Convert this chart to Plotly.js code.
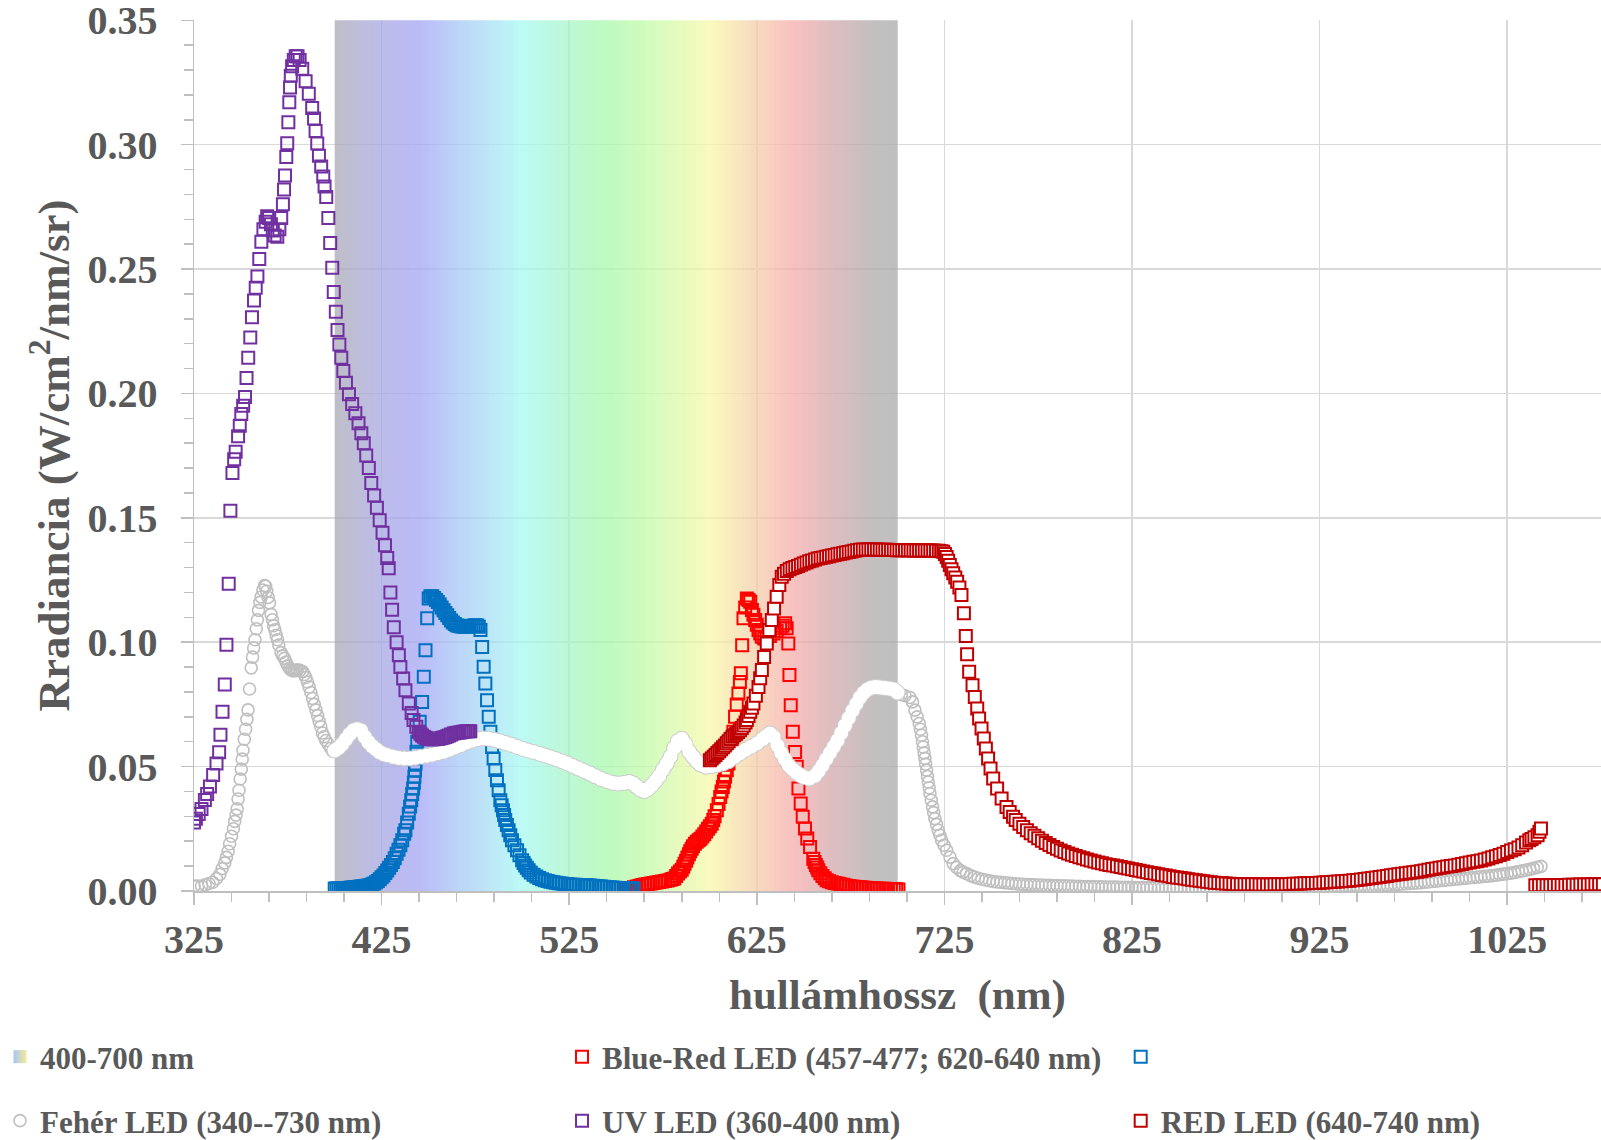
<!DOCTYPE html>
<html><head><meta charset="utf-8">
<script src="https://cdn.plot.ly/plotly-3.0.1.min.js"></script>
<style>html,body{margin:0;padding:0;background:#fff}#chart{width:1601px;height:1140px}</style>
</head><body><div id="chart"></div>
<script>
// ---- data (wavelength nm, radiance W/cm2/nm/sr) ----
const bandRange = [400, 700];
const bandStops = [[400,'#A8A8B4'],[412,'#A8A8CC'],[425,'#A6A6E3'],[445,'#A4A4F6'],[465,'#A6C6F6'],[482,'#A7DEF6'],[500,'#A6FAF2'],[520,'#A6F6CE'],[545,'#A8F8AC'],[570,'#C8FBA8'],[600,'#F8F8A8'],[622,'#F6D2AA'],[645,'#F6ABAB'],[670,'#CBA8AB'],[688,'#AEAAAA'],[700,'#AAAAAA']];

const uvPts = [[325,0.0275],[326,0.029],[327.5,0.031],[329,0.033],[330.8,0.0366],[332,0.039],[333.5,0.042],[335.2,0.0466],[337,0.0512],[338.4,0.0558],[339.1,0.0628],[340.2,0.072],[341.4,0.083],[342.3,0.099],[343.5,0.1235],[344.4,0.1528],[345.5,0.168],[346.4,0.1735],[347.2,0.1766],[348.5,0.1828],[349.4,0.187],[350.2,0.1917],[351.2,0.195],[352.2,0.1986],[353,0.2062],[353.9,0.2143],[355,0.2225],[355.9,0.2306],[357,0.2374],[357.9,0.2425],[358.8,0.247],[359.8,0.254],[360.9,0.261],[362,0.266],[363.2,0.269],[364,0.2712],[365,0.2705],[366,0.268],[367,0.2655],[368,0.2635],[369.4,0.263],[370.5,0.266],[371.5,0.2705],[372.4,0.276],[373,0.282],[373.5,0.2876],[374.2,0.295],[374.7,0.3006],[375.3,0.309],[375.8,0.317],[376.2,0.323],[376.6,0.3277],[377.3,0.3315],[378.2,0.334],[379.2,0.3355],[380.2,0.3355],[381.3,0.334],[382.7,0.3305],[384.5,0.3255],[386.2,0.3205],[388,0.3147],[389,0.3105],[389.8,0.3055],[390.7,0.3005],[391.6,0.2955],[392.8,0.2912],[393.9,0.2872],[394.6,0.2832],[395.5,0.279],[396.6,0.2705],[397.6,0.2605],[398.7,0.2505],[399.5,0.2408],[400.6,0.2328],[401.5,0.2255],[402.5,0.2197],[403.5,0.2143],[404.6,0.209],[406,0.2043],[407.6,0.1997],[409.3,0.1958],[411,0.192],[412.7,0.188],[414.2,0.184],[415.5,0.18],[416.8,0.175],[418.2,0.17],[419.5,0.164],[421,0.159],[422.5,0.154],[424,0.149],[425.5,0.144],[426.8,0.139],[428,0.1338],[428.8,0.1297],[429.7,0.12],[430.6,0.113],[431.5,0.106],[433,0.1],[434.2,0.0948],[435,0.09],[436.5,0.0854],[437.7,0.0807],[439.5,0.0754],[441,0.0715],[442,0.0687],[443.5,0.066],[444.8,0.064],[445.7,0.0632],[446.5,0.0625],[447.5,0.062],[448.4,0.0616],[449.3,0.0613],[450.2,0.0611],[451.1,0.061],[452,0.061],[453,0.061],[454,0.0611],[455,0.0611],[456,0.0613],[457,0.0615],[458,0.0617],[459,0.0619],[460,0.0622],[461,0.0625],[462,0.0629],[463.4,0.0633],[464.5,0.0635],[465.5,0.0636],[466.5,0.0637],[467.5,0.0638],[468.5,0.064],[469.5,0.0641],[470.6,0.0642],[471.5,0.0642],[472.3,0.0642]];

const whitePts = [[325,0.002],[327,0.002],[329,0.002],[331,0.0025],[333,0.003],[335,0.0035],[337,0.005],[338.8,0.0067],[340,0.009],[341.4,0.0113],[342.3,0.0135],[343.2,0.016],[344,0.019],[345,0.022],[346,0.025],[346.7,0.028],[347.4,0.0305],[348,0.033],[348.5,0.037],[349,0.0405],[349.6,0.045],[350.2,0.049],[350.7,0.053],[351.1,0.0566],[351.8,0.061],[352.5,0.065],[353.2,0.069],[353.8,0.0728],[354.6,0.0812],[355.5,0.0897],[356.2,0.094],[356.8,0.0977],[357.5,0.101],[358.2,0.1054],[358.8,0.109],[359.4,0.1128],[360.1,0.116],[360.8,0.1182],[361.7,0.121],[362.6,0.1228],[363.2,0.1225],[363.8,0.1205],[364.5,0.118],[365.2,0.1158],[366.1,0.1112],[366.8,0.109],[367.4,0.1066],[368.1,0.105],[368.8,0.1028],[369.5,0.101],[370.2,0.0989],[371.4,0.0958],[372.3,0.0945],[373.2,0.0935],[374.1,0.092],[375,0.0905],[376,0.0895],[376.7,0.0889],[377.6,0.0886],[378.5,0.0885],[379.4,0.0887],[380.2,0.0889],[381.5,0.0887],[382.9,0.0882],[383.8,0.087],[384.6,0.0858],[385.5,0.084],[386.4,0.082],[387.3,0.0798],[388.2,0.0774],[389.1,0.075],[390,0.0728],[390.9,0.0705],[391.7,0.0682],[392.6,0.066],[393.5,0.0635],[394.4,0.062],[395.3,0.0605],[396.6,0.059],[397.9,0.0574],[399,0.0562],
[400,0.0565],[402,0.0575],[404,0.059],[406,0.061],[408,0.063],[410,0.0645],[412,0.065],[414,0.0645],[416,0.062],[418,0.0598],[420,0.0582],[422,0.057],[424,0.0558],[426,0.055],[428,0.0546],[431,0.054],[434,0.0535],[437,0.0533],[440,0.0533],[443,0.0536],[446,0.054],[449,0.0544],[452,0.0548],[455,0.0554],[458,0.056],[461,0.0568],[464,0.0577],[467,0.0586],[470,0.0596],[473,0.0604],[476,0.061],[479,0.0613],[482,0.0612],[485,0.0608],[488,0.0602],[491,0.0595],[494,0.0588],[497,0.058],[500,0.0572],[503,0.0565],[506,0.0559],[509,0.0552],[512,0.0545],[515,0.0538],[518,0.053],[521,0.0522],[524,0.0512],[527,0.0502],[530,0.0492],[533,0.0482],[536,0.0472],[539,0.0461],[542,0.045],[545,0.0442],[548,0.0435],[551,0.0432],[554,0.0434],[557,0.0438],[559,0.0432],[561,0.042],[563,0.0408],[565,0.0402],[567,0.041],[569,0.0425],[571,0.0442],[573,0.0462],[575,0.0488],[577,0.0512],[579,0.054],[581,0.0575],[583,0.0602],[585,0.0612],[587,0.059],[589,0.056],[591,0.054],[593,0.0522],[595,0.0508],[598,0.0499],[601,0.0502],[604,0.0506],[607,0.0512],[610,0.0522],[613,0.0538],[616,0.0553],[619,0.0568],[622,0.058],[625,0.0593],[628,0.061],[630,0.0622],[632,0.0633],[634,0.062],[636,0.0585],[638,0.0555],[640,0.053],[642,0.0505],[644,0.049],[646,0.0476],[648,0.0466],[650,0.0458],[653,0.0452],[656,0.0463],[658,0.0482],[660,0.0505],[662,0.053],[664,0.0555],[666,0.058],[668,0.0605],[670,0.0635],[672,0.0665],[674,0.0695],[676,0.0725],[678,0.0752],[680,0.0778],[682,0.0797],[684,0.081],[686,0.0817],[688,0.082],[690,0.0819],[692,0.0817],[694,0.0815],[696,0.0813],[698,0.081],[700,0.0798],
[702,0.079],[704,0.0785],[706.6,0.0778],[708,0.076],[709.3,0.0727],[710.5,0.07],[711.6,0.0673],[712.2,0.065],[712.8,0.0626],[713.3,0.06],[713.7,0.0579],[714.2,0.0555],[714.6,0.0533],[715,0.051],[715.5,0.0486],[716,0.046],[716.4,0.0438],[716.9,0.0415],[717.3,0.0392],[718,0.0365],[718.7,0.0338],[719.3,0.0315],[719.9,0.0291],[720.8,0.0268],[721.7,0.0244],[722.6,0.0224],[723.5,0.0204],[724.8,0.0184],[726.2,0.0164],[728,0.0136],[729.7,0.011],[731.5,0.0095],[733.5,0.0082],[735,0.0076],[736.8,0.007],[739,0.0062],[741,0.0056],[743,0.0051],[745,0.0047],[747,0.0044],[749,0.0041],[751,0.0038],[753,0.0036],[755,0.0035],[757,0.0033],[759,0.0032],[761,0.003],[763,0.0029],[765,0.0028],[767,0.0027],[769,0.0026],[771,0.0026],[773,0.0025],[775,0.0024],[777,0.0024],[779,0.0023],[781,0.0023],[783,0.0022],[785,0.0022],[787,0.0021],[789,0.0021],[791,0.002],[793,0.002],[795,0.0019],[797,0.0019],[799,0.0018],[801,0.0018],[803,0.0018],[805,0.0017],[807,0.0017],[809,0.0017],[811,0.0016],[813,0.0016],[815,0.0016],[817,0.0016],[819,0.0015],[821,0.0015],[823,0.0015],[825,0.0015],[827,0.0014],[829,0.0014],[831,0.0014],[833,0.0014],[835,0.0013],[837,0.0013],[839,0.0013],[841,0.0013],[843,0.0012],[845,0.0012],[847,0.0012],[849,0.0012],[851,0.0011],[853,0.0011],[855,0.0011],[857,0.0011],[859,0.0011],[861,0.001],[863,0.001],[865,0.001],[867,0.001],[869,0.001],[871,0.001],[873,0.001],[875,0.001],[877,0.001],[879,0.001],[881,0.001],[883,0.001],[885,0.001],[887,0.001],[889,0.001],[891,0.001],[893,0.001],[895,0.001],[897,0.001],[899,0.001],[901,0.001],[903,0.001],[905,0.0011],[907,0.0011],[909,0.0011],[911,0.0011],[913,0.0012],[915,0.0012],[917,0.0012],[919,0.0012],[921,0.0013],[923,0.0013],[925,0.0013],[927,0.0014],[929,0.0014],[931,0.0014],[933,0.0015],[935,0.0015],[937,0.0016],[939,0.0016],[941,0.0017],[943,0.0017],[945,0.0018],[947,0.0018],[949,0.0019],[951,0.0019],[953,0.002],[955,0.0021],[957,0.0022],[959,0.0023],[961,0.0024],[963,0.0025],[965,0.0026],[967,0.0027],[969,0.0028],[971,0.0029],[973,0.003],[975,0.0031],[977,0.0032],[979,0.0033],[981,0.0035],[983,0.0036],[985,0.0038],[987,0.0039],[989,0.0041],[991,0.0042],[993,0.0044],[995,0.0045],[997,0.0047],[999,0.0048],[1001,0.005],[1003,0.0051],[1005,0.0053],[1007,0.0054],[1009,0.0056],[1011,0.0057],[1013,0.0059],[1015,0.006],[1017,0.0062],[1019,0.0064],[1021,0.0066],[1023,0.0068],[1025,0.007],[1027,0.0072],[1029,0.0075],[1031,0.0078],[1033,0.0081],[1035,0.0084],[1037,0.0087],[1039,0.0091],[1041,0.0095],[1043,0.0099]];

const bluePts = [[400,0.001],[401,0.001],[402,0.001],[403,0.001],[404,0.0011],[405,0.0011],[406,0.0012],[407,0.0012],[408,0.0013],[409,0.0014],[410,0.0014],[411,0.0015],[412,0.0016],[413,0.0017],[414,0.0018],[415,0.0019],[416,0.002],[417,0.0021],[418,0.0022],[419,0.0024],[420,0.0027],[421,0.003],[422,0.0035],[423,0.004],[424,0.0047],[425,0.0055],[426,0.0062],[427,0.0072],[428,0.0082],[429,0.0093],[430,0.0105],[431,0.0117],[432,0.0132],[433,0.015],[434,0.0166],[435,0.0184],[436,0.0204],[437,0.023],[437.7,0.0244],[438.6,0.0275],[439.5,0.0311],[440.2,0.034],[440.8,0.0365],[441.3,0.039],[441.8,0.0412],[442.2,0.0435],[442.5,0.0459],[442.8,0.0485],[443.1,0.0512],[443.6,0.056],[444,0.06],[445.3,0.068],[446.6,0.076],[447.5,0.0861],[448.4,0.0968],[449.3,0.1096],[450.1,0.1176],[451,0.1185],[452,0.1185],[453,0.1178],[454,0.117],[455,0.1162],[456,0.1152],[457,0.114],[458,0.1128],[459,0.1117],[460,0.1108],[461,0.1097],[462,0.1087],[463,0.1079],[464,0.1073],[465,0.1068],[466,0.1066],[467,0.1064],[468,0.1063],[469,0.1062],[470,0.1062],[471,0.1063],[472,0.1064],[473,0.1065],[474,0.1067],[475,0.1068],[476,0.1067],[476.8,0.1062],[477.7,0.1049],[478.6,0.0981],[479.4,0.0901],[480.3,0.0834],[481.2,0.0767],[482.1,0.07],[483,0.064],[483.9,0.0579],[484.7,0.0533],[485.6,0.0486],[486.5,0.0445],[487.4,0.0405],[488.3,0.0365],[489,0.0345],[489.7,0.0325],[490.3,0.0305],[490.9,0.0285],[491.8,0.0265],[492.7,0.0244],[493.6,0.0224],[494.5,0.0204],[495.8,0.0184],[497.2,0.0164],[498.5,0.0144],[499.9,0.0124],[500.7,0.0113],[501.5,0.0103],[502.4,0.0093],[503.4,0.0083],[504.5,0.0074],[506,0.0065],[507.5,0.0058],[509,0.0052],[510.5,0.0047],[512,0.0043],[513.5,0.004],[515,0.0037],[516.5,0.0035],[518,0.0033],[519.5,0.0031],[521,0.003],[522.5,0.0028],[524,0.0027],[525.5,0.0026],[527,0.0025],[528.5,0.0025],[530,0.0024],[531.5,0.0024],[533,0.0023],[534.5,0.0023],[536,0.0022],[537.5,0.0021],[539,0.002],[540.5,0.0019],[542,0.0018],[543.5,0.0017],[545,0.0016],[546.5,0.0015],[548,0.0014],[549.5,0.0013],[551,0.0012],[552.5,0.0012],[554,0.0011],[555.5,0.0011],[557,0.001],[558.3,0.001],[559.3,0.001]];

const brRedPts = [[555,0.001],[556.5,0.0011],[558,0.0012],[559.5,0.0015],[561,0.0018],[562.5,0.0021],[564,0.0024],[565.5,0.0026],[567,0.0028],[568.5,0.003],[570,0.0032],[571.5,0.0034],[573,0.0036],[574.5,0.0038],[576,0.004],[577.5,0.0042],[579,0.0045],[580,0.0048],[581,0.005],[582,0.006],[583,0.007],[584,0.0078],[585,0.0085],[585.8,0.0097],[586.5,0.011],[587.3,0.0122],[588,0.0135],[588.8,0.0148],[589.5,0.016],[590.3,0.017],[591,0.018],[592,0.019],[593,0.0198],[594,0.0204],[595,0.021],[596,0.0219],[597,0.0228],[598,0.0239],[599,0.025],[600,0.026],[601,0.027],[601.8,0.0285],[602.5,0.03],[603.7,0.0325],[604.6,0.035],[605.5,0.0378],[606.2,0.04],[606.9,0.0418],[607.5,0.044],[608.1,0.0459],[609,0.0485],[609.9,0.0512],[610.8,0.055],[611.7,0.0593],[612.5,0.064],[613.4,0.07],[614.3,0.075],[615.2,0.0794],[616,0.084],[616.5,0.0875],[617.2,0.0988],[617.9,0.1096],[618.8,0.114],[619.7,0.1176],[620.6,0.117],[621.5,0.1163],[622.4,0.1129],[623.2,0.111],[624.1,0.1089],[625,0.107],[625.9,0.1049],[626.8,0.1035],[627.7,0.1022],[629,0.1015],[630.3,0.1015],[632,0.1025],[633.9,0.1035],[635.6,0.1045],[637.4,0.1056],[638.8,0.1066],[640.1,0.1076],[640.9,0.1056],[641.8,0.0995],[642.4,0.0868],[643.1,0.0747],[644.2,0.064],[645.4,0.0559],[646.3,0.0499],[647.2,0.0412],[648.4,0.0352],[649.5,0.0298],[650.7,0.0251],[651.9,0.0211],[653.4,0.0177],[655.1,0.013],[655.8,0.0117],[656.5,0.0105],[657.2,0.0094],[657.8,0.0083],[658.9,0.0071],[660,0.006],[661.2,0.0051],[662.3,0.0043],[663.6,0.0039],[665,0.0035],[666.5,0.0032],[668,0.003],[669.5,0.0027],[671,0.0025],[672.5,0.0022],[674,0.002],[675.5,0.0018],[677,0.0017],[678.5,0.0016],[680,0.0015],[681.5,0.0014],[683,0.0013],[684.5,0.0012],[686,0.0011],[687.5,0.001],[689,0.001],[690.5,0.0009],[692,0.0009],[693.5,0.0009],[695,0.0008],[696.5,0.0008],[698,0.0007],[699.3,0.0007],[700.5,0.0006]];

const redPts = [[600,0.0526],[601,0.0533],[602,0.054],[603,0.0547],[604,0.0555],[605,0.0562],[606,0.057],[607,0.0578],[608,0.0585],[609,0.0594],[610,0.0602],[611,0.0611],[612,0.062],[613,0.0626],[614,0.0632],[615,0.0639],[616,0.0646],[617,0.0655],[618,0.0665],[619,0.0677],[619.7,0.0687],[620.6,0.0703],[621.5,0.072],[622.4,0.0737],[623.2,0.0754],[624.5,0.0785],[625.9,0.082],[626.8,0.0855],[627.7,0.0888],[628.9,0.0941],[630.3,0.0995],[631.7,0.1049],[633,0.1089],[634.2,0.1136],[635.6,0.1183],[637,0.123],[638.3,0.1263],[639.5,0.1275],[641,0.1286],[642.5,0.1293],[644,0.1298],[645.5,0.1302],[647,0.1306],[648.5,0.1311],[650,0.1316],[651.5,0.132],[653,0.1325],[654.5,0.1328],[656,0.1332],[657.5,0.1336],[659,0.1339],[660.5,0.1341],[662,0.1344],[663.5,0.1346],[665,0.1349],[666.5,0.1351],[668,0.1354],[669.5,0.1356],[671,0.1358],[672.5,0.1361],[674,0.1363],[675.5,0.1365],[677,0.1368],[678.5,0.137],[680,0.1372],[681.5,0.1373],[683,0.1373],[684.5,0.1373],[686,0.1373],[687.5,0.1373],[689,0.1373],[690.5,0.1372],[692,0.1372],[693.5,0.1372],[695,0.1372],[696.5,0.1371],[698,0.1371],[699.5,0.137],[701,0.137],[702.5,0.137],[704,0.137],[705.5,0.137],[707,0.137],[708.5,0.1369],[710,0.1369],[711.5,0.1369],[713,0.1369],[714.5,0.1369],[716,0.1369],[717.5,0.1369],[719,0.1369],[720.5,0.1368],[722,0.1368],[723.3,0.1366],[724.4,0.1364],[725.3,0.1355],[726.2,0.1343],[727,0.1327],[727.9,0.131],[728.8,0.1293],[729.7,0.1277],[730.8,0.126],[731.8,0.1243],[733,0.122],[734.1,0.119],[735.4,0.1116],[736.4,0.1025],[737.1,0.0952],[738.2,0.0881],[740,0.0827],[741.2,0.078],[742.5,0.0734],[743.5,0.0693],[744.8,0.0653],[746,0.0613],[747.1,0.0573],[748.3,0.0533],[749.6,0.0492],[751,0.0452],[753.1,0.0412],[755.5,0.0372],[758.1,0.0338],[759.8,0.0318],[761.6,0.0298],[763,0.0285],[765,0.027],[767,0.0257],[769,0.0244],[771,0.0232],[773,0.0222],[775,0.0212],[777,0.0202],[779,0.0193],[781,0.0185],[783,0.0177],[785,0.017],[787,0.0163],[789,0.0157],[791,0.0151],[793,0.0146],[795,0.0141],[797,0.0136],[799,0.0132],[801,0.0127],[803,0.0123],[805,0.0119],[807,0.0115],[809,0.0112],[811,0.0108],[813,0.0105],[815,0.0102],[817,0.0099],[819,0.0096],[821,0.0093],[823,0.009],[825,0.0087],[827,0.0084],[829,0.0081],[831,0.0078],[833,0.0075],[835,0.0072],[837,0.007],[839,0.0067],[841,0.0064],[843,0.0062],[845,0.0059],[847,0.0056],[849,0.0054],[851,0.0052],[853,0.005],[855,0.0047],[857,0.0045],[859,0.0043],[861,0.0041],[863,0.0039],[865,0.0037],[867,0.0035],[869,0.0033],[871,0.0032],[873,0.0031],[875,0.003],[877,0.0029],[879,0.0028],[881,0.0027],[883,0.0027],[885,0.0027],[887,0.0027],[889,0.0027],[891,0.0027],[893,0.0026],[895,0.0026],[897,0.0026],[899,0.0026],[901,0.0027],[903,0.0027],[905,0.0027],[907,0.0027],[909,0.0028],[911,0.0029],[913,0.0029],[915,0.003],[917,0.0031],[919,0.0031],[921,0.0032],[923,0.0032],[925,0.0033],[927,0.0034],[929,0.0035],[931,0.0036],[933,0.0037],[935,0.0038],[937,0.0039],[939,0.004],[941,0.0041],[943,0.0043],[945,0.0044],[947,0.0046],[949,0.0048],[951,0.005],[953,0.0052],[955,0.0054],[957,0.0056],[959,0.0058],[961,0.006],[963,0.0063],[965,0.0065],[967,0.0067],[969,0.0069],[971,0.0071],[973,0.0073],[975,0.0075],[977,0.0077],[979,0.0079],[981,0.0082],[983,0.0085],[985,0.0088],[987,0.009],[989,0.0093],[991,0.0095],[993,0.0098],[995,0.01],[997,0.0103],[999,0.0106],[1001,0.0109],[1003,0.0112],[1005,0.0115],[1007,0.0118],[1009,0.012],[1011,0.0123],[1013,0.0127],[1015,0.0131],[1017,0.0136],[1019,0.014],[1021,0.0145],[1023,0.015],[1025,0.0157],[1027,0.0163],[1029,0.0168],[1031,0.0175],[1033,0.0184],[1035,0.0195],[1036.8,0.0204],[1038,0.0209],[1039.5,0.0216],[1041.2,0.0224],[1042.2,0.0238],[1043,0.0251],
[1040,0.0023],[1042,0.0023],[1044,0.0023],[1046,0.0023],[1048,0.0023],[1050,0.0024],[1052,0.0024],[1054,0.0024],[1056,0.0024],[1058,0.0025],[1060,0.0025],[1062,0.0025],[1064,0.0026],[1066,0.0026],[1068,0.0026],[1070,0.0027],[1072,0.0027],[1074,0.0027],[1076,0.0027]];

const names = {
  band: '400-700 nm',
  brRed: 'Blue-Red LED (457-477; 620-640 nm)',
  blue: '',
  white: 'Fehér LED (340--730 nm)',
  uv: 'UV LED (360-400 nm)',
  red: 'RED LED (640-740 nm)'
};
const xTitle = 'hullámhossz  (nm)';
const yTitle = 'Rradiancia (W/cm<sup>2</sup>/nm/sr)';

// ---- build ----
const FONT = 'Liberation Serif, Times New Roman, serif';
const TXT = '#595959';
const xs = p => p.map(d => d[0]);
const ys = p => p.map(d => d[1]);

// band heatmap: 1 nm columns coloured by wavelength
const bandEdges = [], bandZ = [];
for (let w = bandRange[0]; w <= bandRange[1]; w += 1) bandEdges.push(w);
for (let i = 0; i < bandEdges.length - 1; i++) bandZ.push((bandEdges[i] + bandEdges[i+1]) / 2);
const span = bandRange[1] - bandRange[0];
const bandScale = bandStops.map(s => [(s[0] - bandRange[0]) / span, s[1]]);

const inBand = d => d[0] >= bandRange[0] && d[0] <= bandRange[1];
const whiteOut = whitePts.filter(d => !inBand(d));
const whiteIn = whitePts.filter(inBand);

const sq = color => ({symbol: 'square-open', size: 12, color: color, line: {width: 2, color: color}});

const traces = [
  {type: 'heatmap', x: bandEdges, y: [0, 0.35], z: [bandZ], zmin: bandRange[0], zmax: bandRange[1],
   colorscale: bandScale, showscale: false, opacity: 0.75, hoverinfo: 'skip', showlegend: false},
  {type: 'scatter', mode: 'markers', x: [null], y: [null], name: names.band, legend: 'legend',
   marker: {symbol: 'square', size: 13, color: '#A8C4F6', gradient: {type: 'horizontal', color: '#F2EC98'}, line: {width: 0}}},
  {type: 'scatter', mode: 'markers', x: xs(brRedPts), y: ys(brRedPts), name: names.brRed, legend: 'legend',
   marker: sq('#FF0000')},
  {type: 'scatter', mode: 'markers', x: xs(bluePts), y: ys(bluePts), name: names.blue, legend: 'legend3',
   marker: sq('#0070C0')},
  {type: 'scatter', mode: 'markers', x: xs(whiteOut), y: ys(whiteOut), name: names.white, legend: 'legend2',
   marker: {symbol: 'circle-open', size: 12, color: '#BFBFBF', line: {width: 1.6, color: '#BFBFBF'}}},
  {type: 'scatter', mode: 'markers', x: xs(whiteIn), y: ys(whiteIn), name: names.white, legend: 'legend2', showlegend: false,
   marker: {symbol: 'circle', size: 16, color: '#CCCCCC', line: {width: 0}}},
  {type: 'scatter', mode: 'markers', x: xs(whiteIn), y: ys(whiteIn), name: names.white, legend: 'legend2', showlegend: false,
   marker: {symbol: 'circle', size: 14, color: '#FFFFFF', line: {width: 0}}},
  {type: 'scatter', mode: 'markers', x: xs(uvPts), y: ys(uvPts), name: names.uv, legend: 'legend2',
   marker: sq('#7030A0')},
  {type: 'scatter', mode: 'markers', x: xs(redPts), y: ys(redPts), name: names.red, legend: 'legend4',
   marker: {symbol: 'square', size: 12, color: '#FFFFFF', line: {width: 2, color: '#C00000'}}}
];

const axisCommon = {
  showgrid: true, gridcolor: '#D9D9D9', gridwidth: 1.5,
  showline: true, linecolor: '#BFBFBF', linewidth: 1.5,
  ticks: 'outside', ticklen: 12, tickwidth: 1.5, tickcolor: '#BFBFBF',
  tickfont: {family: FONT, size: 40, color: TXT, weight: 'bold'},
  ticklabeloverflow: 'allow',
  zeroline: false, fixedrange: true
};

const legendCommon = {
  orientation: 'h', xref: 'container', yref: 'container', xanchor: 'left', yanchor: 'middle',
  entrywidth: 517, entrywidthmode: 'pixels', itemwidth: 30, traceorder: 'normal',
  bgcolor: 'rgba(0,0,0,0)', font: {family: FONT, size: 31, color: TXT, weight: 'bold'}
};
const row1 = 1 - 1057/1140, row2 = 1 - 1121/1140;
const col1 = 0, col3 = 0.7;

const layout = {
  width: 1601, height: 1140,
  margin: {l: 194, r: 0, t: 20, b: 249, autoexpand: false},
  paper_bgcolor: '#FFFFFF', plot_bgcolor: '#FFFFFF',
  hovermode: false,
  xaxis: Object.assign({}, axisCommon, {
    range: [325, 1075], tickmode: 'linear', tick0: 325, dtick: 100,
    ticklabelstandoff: 0,
    minor: {tick0: 325, dtick: 20, ticks: 'outside', ticklen: 9, tickwidth: 1.5, tickcolor: '#BFBFBF', showgrid: false}
  }),
  yaxis: Object.assign({}, axisCommon, {
    range: [0, 0.3501], tickmode: 'linear', tick0: 0, dtick: 0.05, tickformat: '.2f',
    ticklabelstandoff: 15,
    minor: {tick0: 0, dtick: 0.01, ticks: 'outside', ticklen: 9, tickwidth: 1.5, tickcolor: '#BFBFBF', showgrid: false}
  }),
  annotations: [
    {text: xTitle, xref: 'paper', yref: 'paper', x: 0.5, y: -0.1199, xanchor: 'center', yanchor: 'middle',
     showarrow: false, font: {family: FONT, size: 43, color: TXT, weight: 'bold'}},
    {text: yTitle, xref: 'paper', yref: 'paper', x: -0.1017, y: 0.5, xanchor: 'center', yanchor: 'middle',
     textangle: -90, showarrow: false, font: {family: FONT, size: 45, color: TXT, weight: 'bold'}}
  ],
  showlegend: true,
  legend: Object.assign({}, legendCommon, {x: col1, y: row1}),
  legend2: Object.assign({}, legendCommon, {x: col1, y: row2}),
  legend3: Object.assign({}, legendCommon, {x: col3, y: row1}),
  legend4: Object.assign({}, legendCommon, {x: col3, y: row2})
};

Plotly.newPlot('chart', traces, layout, {staticPlot: true, displayModeBar: false});
</script></body></html>
